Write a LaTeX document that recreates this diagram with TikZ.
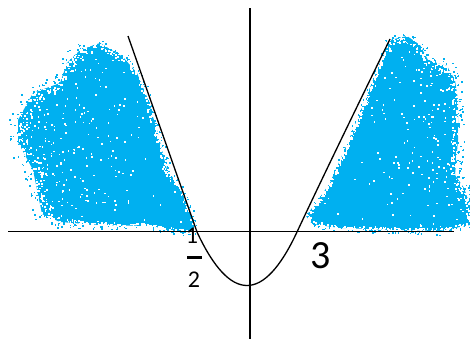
\documentclass[tikz,border=0pt]{standalone}
\usepackage{fontspec}
\setmainfont{Carlito}
\definecolor{sky}{RGB}{0,176,240}
\tikzset{
  axisline/.style={line width=1.6pt, black},
  curveline/.style={line width=1.3pt, black},
  lbl/.style={inner sep=0pt, anchor=base, font=\fontsize{40}{40}\selectfont},
  fraclbl/.style={inner sep=0pt, anchor=base, font=\fontsize{24}{24}\selectfont},
}
\begin{document}
\begin{tikzpicture}[x=1pt,y=-1pt]
\useasboundingbox (0,0) rectangle (470,341);
\pgfmathsetseed{4242}
% ---------- left blob ----------
\fill[sky] (80,50) -- (100,43) -- (123,57) -- (137,73) -- (147,97) -- (157,130) -- (167,170) -- (180,187) -- (192,217) -- (196,230) -- (183,232) -- (150,226) -- (100,225) -- (60,222) -- (42,214) -- (33,170) -- (18,142) -- (18,120) -- (33,93) -- (60,83) -- (67,63) -- cycle;
% ---------- right blob ----------
\fill[sky] (390,40) -- (407,36) -- (420,45) -- (428,60) -- (447,66) -- (455,80) -- (458,100) -- (458,140) -- (455,175) -- (464,188) -- (470,205) -- (470,225) -- (440,231) -- (400,230) -- (340,228) -- (312,224) -- (306,216) -- (318,200) -- (330,183) -- (350,137) -- (373,80) -- (385,50) -- cycle;
% ---------- fuzzy edges ----------
\foreach \col/\dens in {sky/0.9, white/1.5}{
  \foreach \px/\py/\s [remember=\px as \lx (initially 80), remember=\py as \ly (initially 50)] in
   {(100)/43/6,123/57/5,137/73/5,147/97/4,157/130/4,167/170/4,180/187/3,192/217/3,196/230/2,183/232/3,150/226/3,100/225/3,60/222/4,42/214/6,33/170/9,18/142/9,18/120/9,33/93/9,60/83/8,67/63/7,80/50/7}{
    \pgfmathtruncatemacro\n{max(1,\dens*veclen(\px-\lx,\py-\ly))}
    \foreach \k in {1,...,\n}{
      \pgfmathsetmacro\t{rnd}
      \pgfmathsetmacro\qx{\lx+\t*(\px-\lx)+\s*rand}
      \pgfmathsetmacro\qy{\ly+\t*(\py-\ly)+\s*rand}
      \fill[\col] (\qx,\qy) rectangle ++(1.7,1.7);
    }
  }
  \foreach \px/\py/\s [remember=\px as \lx (initially 390), remember=\py as \ly (initially 40)] in
   {407/36/5,420/45/5,428/60/6,447/66/7,455/80/7,458/100/6,458/140/6,455/175/6,464/188/6,470/205/5,470/225/4,440/231/3,400/230/3,340/228/3,312/224/3,306/216/3,318/200/2,330/183/2,350/137/2,373/80/2,385/50/2,390/40/4}{
    \pgfmathtruncatemacro\n{max(1,\dens*veclen(\px-\lx,\py-\ly))}
    \foreach \k in {1,...,\n}{
      \pgfmathsetmacro\t{rnd}
      \pgfmathsetmacro\qx{\lx+\t*(\px-\lx)+\s*rand}
      \pgfmathsetmacro\qy{\ly+\t*(\py-\ly)+\s*rand}
      \fill[\col] (\qx,\qy) rectangle ++(1.7,1.7);
    }
  }
}
% ---------- sparse interior specks ----------
\begin{scope}
\clip (80,50) -- (100,43) -- (123,57) -- (137,73) -- (147,97) -- (157,130) -- (167,170) -- (180,187) -- (192,217) -- (196,230) -- (183,232) -- (150,226) -- (100,225) -- (60,222) -- (42,214) -- (33,170) -- (18,142) -- (18,120) -- (33,93) -- (60,83) -- (67,63) -- cycle;
\foreach \k in {1,...,420}{
  \pgfmathsetmacro\qx{18+180*rnd*rnd}
  \pgfmathsetmacro\qy{43+190*rnd}
  \fill[white] (\qx,\qy) rectangle ++(1.6,1.6);
}
\end{scope}
\begin{scope}
\clip (390,40) -- (407,36) -- (420,45) -- (428,60) -- (447,66) -- (455,80) -- (458,100) -- (458,140) -- (455,175) -- (464,188) -- (470,205) -- (470,225) -- (440,231) -- (400,230) -- (340,228) -- (312,224) -- (306,216) -- (318,200) -- (330,183) -- (350,137) -- (373,80) -- (385,50) -- cycle;
\foreach \k in {1,...,300}{
  \pgfmathsetmacro\qx{470-165*rnd*rnd}
  \pgfmathsetmacro\qy{36+195*rnd}
  \fill[white] (\qx,\qy) rectangle ++(1.6,1.6);
}
\end{scope}
% ---------- axes ----------
\coordinate (xl) at (8,231.5);
\coordinate (xr) at (454,231.5);
\coordinate (yt) at (250,8);
\coordinate (yb) at (250,339);
\draw[axisline] (xl) -- (xr);
\draw[axisline] (yt) -- (yb);
% ---------- curve ----------
\coordinate (ctop) at (128,36);
\coordinate (zl) at (197,232);
\coordinate (vx) at (247,285.5);
\coordinate (zr) at (297,232);
\coordinate (rtop) at (390,39);
\draw[curveline] (ctop) -- (zl) .. controls (213.67,267.67) and (230.33,285.5) .. (vx)
  .. controls (263.67,285.5) and (280.33,267.67) .. (zr)
  .. controls (325,172) and (370,80) .. (rtop);
% ---------- labels ----------
\node[lbl] (three) at (320.5,268) {3};
\node[fraclbl] (num) at (192,243) {1};
\node[fraclbl] (den) at (194,287) {2};
\draw[line width=3pt] (187,257) -- (202,257);
\end{tikzpicture}
\end{document}
